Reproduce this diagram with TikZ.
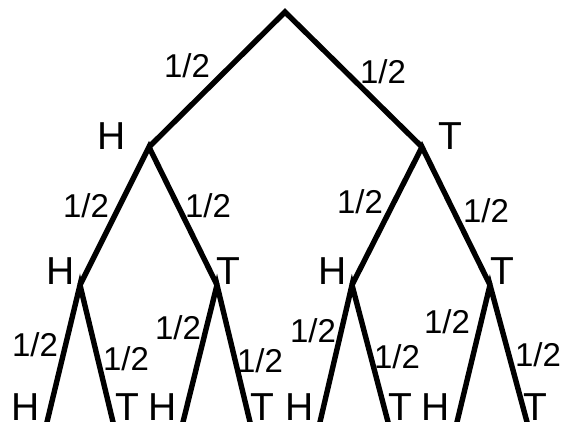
\documentclass[tikz,border=0pt]{standalone}
\usepackage{fontspec}
\setmainfont{Liberation Sans}
\usetikzlibrary{calc}
\begin{document}
\begin{tikzpicture}[x=1pt,y=-1pt,
  edge/.style={line width=5.4pt,line join=miter,line cap=butt,black},
  prob/.style={inner sep=0pt,font=\fontsize{33}{33}\selectfont},
  side/.style={inner sep=0pt,font=\fontsize{39}{39}\selectfont}]
\useasboundingbox (0,0) rectangle (565,422);
\clip (0,0) rectangle (565,422);
% tree points
\coordinate (r) at (285,12);
\coordinate (h) at (149,147);
\coordinate (t) at (422,147);
\coordinate (hh) at (80,285);
\coordinate (ht) at (217,285);
\coordinate (th) at (352,285);
\coordinate (tt) at (490,285);
\coordinate (hhh0) at (47,422);
\coordinate (hht0) at (113,422);
\coordinate (hth0) at (183,422);
\coordinate (htt0) at (250,422);
\coordinate (thh0) at (320,422);
\coordinate (tht0) at (388,422);
\coordinate (tth0) at (457,422);
\coordinate (ttt0) at (527,422);
\coordinate (hhh) at ($(hh)!1.2!(hhh0)$);
\coordinate (hht) at ($(hh)!1.2!(hht0)$);
\coordinate (hth) at ($(ht)!1.2!(hth0)$);
\coordinate (htt) at ($(ht)!1.2!(htt0)$);
\coordinate (thh) at ($(th)!1.2!(thh0)$);
\coordinate (tht) at ($(th)!1.2!(tht0)$);
\coordinate (tth) at ($(tt)!1.2!(tth0)$);
\coordinate (ttt) at ($(tt)!1.2!(ttt0)$);
% edges
\draw[edge] (h) -- (r) -- (t);
\draw[edge] (hh) -- (h) -- (ht);
\draw[edge] (th) -- (t) -- (tt);
\draw[edge] (hhh) -- (hh) -- (hht);
\draw[edge] (hth) -- (ht) -- (htt);
\draw[edge] (thh) -- (th) -- (tht);
\draw[edge] (tth) -- (tt) -- (ttt);
% probabilities
\node[prob] (p1) at (187,66) {1/2};
\node[prob] (p2) at (383,72) {1/2};
\node[prob] (p3) at (86,206) {1/2};
\node[prob] (p4) at (208,206) {1/2};
\node[prob] (p5) at (360,202) {1/2};
\node[prob] (p6) at (486,211) {1/2};
\node[prob] (p7) at (35,345) {1/2};
\node[prob] (p8) at (126,359) {1/2};
\node[prob] (p9) at (178,328) {1/2};
\node[prob] (p10) at (260,361) {1/2};
\node[prob] (p11) at (313,331) {1/2};
\node[prob] (p12) at (397,357) {1/2};
\node[prob] (p13) at (447,322) {1/2};
\node[prob] (p14) at (538,355) {1/2};
% outcomes
\node[side] (lh) at (112,136) {H};
\node[side] (lt) at (450,136) {T};
\node[side] (lhh) at (61,271) {H};
\node[side] (lht) at (228,271) {T};
\node[side] (lth) at (333,271) {H};
\node[side] (ltt) at (502,271) {T};
\node[side] (l1) at (26,407) {H};
\node[side] (l2) at (127,407) {T};
\node[side] (l3) at (163,407) {H};
\node[side] (l4) at (262,407) {T};
\node[side] (l5) at (300,407) {H};
\node[side] (l6) at (400,407) {T};
\node[side] (l7) at (436,407) {H};
\node[side] (l8) at (535,407) {T};
\end{tikzpicture}
\end{document}
